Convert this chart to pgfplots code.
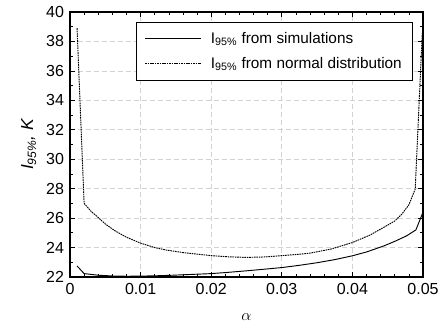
\documentclass[border=0pt]{standalone}
\usepackage{pgfplots}
\pgfplotsset{compat=1.18}
\usepackage{fontspec}
\setmainfont{Liberation Sans}
\begin{document}
\begin{tikzpicture}
\path[use as bounding box] (-52.5pt,-34.5pt) rectangle (279.75pt,207.75pt);
\begin{axis}[
  scale only axis,
  width=264.75pt, height=198.75pt,
  xmin=0, xmax=0.05, ymin=22, ymax=40,
  xtick={0,0.01,0.02,0.03,0.04,0.05},
  xticklabels={0,0.01,0.02,0.03,0.04,0.05},
  scaled x ticks=false,
  ytick={22,24,...,40},
  minor x tick num=4,
  minor y tick num=1,
  tick align=inside,
  major tick length=3.5pt,
  minor tick length=2pt,
  tick style={black, line width=0.5pt},
  xtick pos=both, ytick pos=both,
  /pgf/number format/assume math mode=true,
  tick label style={font=\fontsize{12}{14}\selectfont},
  xticklabel style={yshift=-1pt},
  yticklabel style={xshift=-1pt},
  grid=major,
  major grid style={gray!35, dash pattern=on 4pt off 2pt, line width=0.5pt},
  axis line style={black, line width=0.8pt},
  xlabel={$\alpha$},
  ylabel={\itshape I\textsubscript{95\%}, K},
  xlabel style={at={(axis description cs:0.5,-0.15)}, anchor=center, font=\fontsize{13}{15}\selectfont},
  ylabel style={at={(axis description cs:-0.117,0.5)}, anchor=center, font=\fontsize{13}{15}\selectfont},
  legend style={at={(axis description cs:0.9717,0.9633)}, anchor=north east,
    draw=black, line width=0.8pt, font=\fontsize{11.5}{13.5}\selectfont,
    inner xsep=6pt, inner ysep=5.5pt, row sep=5pt, cells={anchor=west}},
  legend image code/.code={\draw[#1] (0pt,0pt) -- (42pt,0pt); \path (47pt,0pt);},
]
\addplot[black, line width=0.7pt] coordinates {
(0.001,22.75) (0.002,22.23) (0.004,22.12) (0.006,22.07) (0.008,22.05)
(0.010,22.06) (0.012,22.08) (0.014,22.11) (0.016,22.15) (0.018,22.19)
(0.020,22.23) (0.022,22.30) (0.025,22.42) (0.028,22.55) (0.030,22.64)
(0.0326,22.80) (0.035,22.97) (0.0375,23.18) (0.040,23.44) (0.042,23.70)
(0.0444,24.10) (0.046,24.42) (0.0477,24.80) (0.049,25.20) (0.0500,26.40)
};
\addlegendentry{I\textsubscript{95\%} from simulations}
\addplot[black, line width=0.7pt, dash pattern=on 1.2pt off 0.6pt] coordinates {
(0.001,38.9) (0.002,27.0) (0.003,26.45) (0.004,26.04) (0.005,25.6)
(0.0064,25.13) (0.008,24.7) (0.010,24.3) (0.012,24.0) (0.0135,23.84)
(0.016,23.66) (0.018,23.55) (0.020,23.45) (0.0225,23.37) (0.025,23.33)
(0.0275,23.36) (0.030,23.45) (0.0326,23.55) (0.034,23.62) (0.037,23.9)
(0.040,24.34) (0.0425,24.85) (0.0444,25.36) (0.046,25.8) (0.047,26.27)
(0.048,26.9) (0.0489,27.98) (0.0499,38.6)
};
\addlegendentry{I\textsubscript{95\%} from normal distribution}
\end{axis}
\end{tikzpicture}
\end{document}
